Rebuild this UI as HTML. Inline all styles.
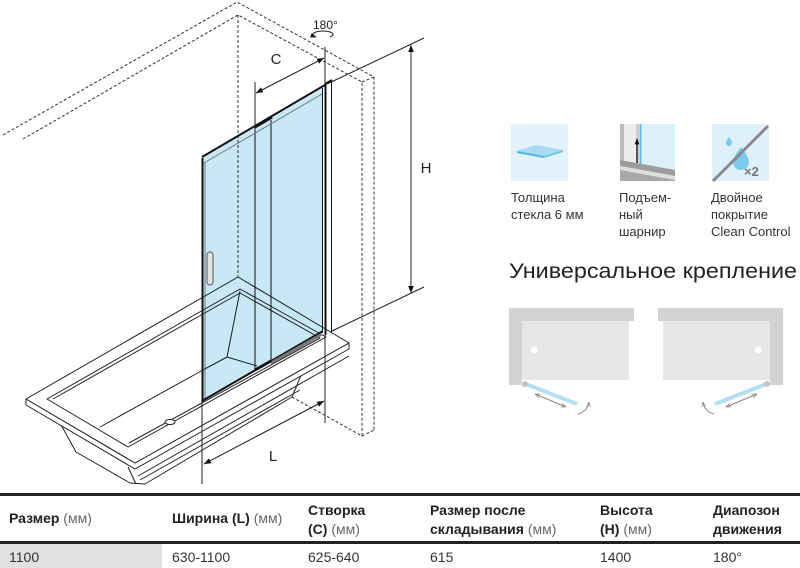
<!DOCTYPE html>
<html><head><meta charset="utf-8"><style>
html,body{margin:0;padding:0;background:#fff;}
svg{display:block;}
text{font-family:"Liberation Sans","DejaVu Sans",sans-serif;}
</style></head><body>
<svg width="800" height="568" viewBox="0 0 800 568" xmlns="http://www.w3.org/2000/svg">
<defs>
<marker id="ar" viewBox="0 0 10 10" refX="10" refY="5" markerWidth="7" markerHeight="7" orient="auto-start-reverse" markerUnits="userSpaceOnUse"><path d="M0,1 L10,5 L0,9 z" fill="#111"/></marker>
<marker id="ag" viewBox="0 0 10 10" refX="10" refY="5" markerWidth="5" markerHeight="5" orient="auto-start-reverse" markerUnits="userSpaceOnUse"><path d="M0,1 L10,5 L0,9" fill="none" stroke="#888" stroke-width="1.5"/></marker>
<marker id="ab" viewBox="0 0 10 10" refX="9" refY="5" markerWidth="6" markerHeight="6" orient="auto" markerUnits="userSpaceOnUse"><path d="M0,1 L10,5 L0,9 z" fill="#111"/></marker>
</defs>

<!-- dashed walls -->
<g fill="none" stroke="#333" stroke-width="1" stroke-dasharray="3,2">
<polyline points="3,135 237,2 374,77 374,430"/>
<polyline points="23,139 238,15 362,82 362,436"/>
<line x1="362" y1="82" x2="374" y2="77"/>
<line x1="238" y1="15" x2="238" y2="277"/>
<polyline points="292,397 362,436 374,430"/>
</g>

<!-- bathtub -->
<g stroke="#222" stroke-width="1" fill="#fff" stroke-linejoin="round">
<polygon points="60,423 76,452 130,483 145,484 292,397 302,373 135,469"/>
<line x1="128" y1="467" x2="136" y2="484"/>
<polygon points="26,399 135,463 349,343 349,349 135,469 26,405"/>
<polygon points="238,277 26,399 135,463 349,343"/>
<polygon points="47,399 240,289 326,337 128,447"/>
<polyline fill="none" points="53,399 240,293 320,338 129,443"/>
<line x1="138" y1="476" x2="349" y2="356" fill="none"/>
<line x1="140" y1="480" x2="300" y2="390" fill="none"/>
<line x1="100" y1="427" x2="203" y2="370" fill="none"/>
<polyline fill="none" points="203,370 227,357 240,291"/>
<line x1="227" y1="357" x2="257" y2="366"/>
<ellipse cx="170" cy="422" rx="5" ry="2.5"/>
</g>

<!-- glass (multiply) -->
<polygon points="202,158 323,88 323,331 202,401" fill="#c8e8f6" style="mix-blend-mode:multiply"/>
<g stroke="#111" fill="none">
<line x1="202.5" y1="158" x2="202.5" y2="402" stroke-width="2"/>
<line x1="205" y1="162" x2="205" y2="400" stroke-width="0.8" stroke="#555"/>
<line x1="255" y1="128" x2="255" y2="371" stroke-width="1"/>
<line x1="271" y1="120" x2="271" y2="362" stroke-width="1"/>
<line x1="322.5" y1="88" x2="322.5" y2="333" stroke-width="1"/>
<line x1="202" y1="157" x2="325" y2="85" stroke-width="2"/>
<line x1="204" y1="163" x2="322" y2="94" stroke-width="1" stroke="#777"/>
<line x1="255" y1="127" x2="272" y2="117" stroke-width="3"/>
<line x1="202" y1="401" x2="323" y2="331" stroke-width="2"/>
<line x1="271" y1="363" x2="322" y2="334" stroke-width="3" stroke="#777"/>
<line x1="255" y1="370" x2="271" y2="361" stroke-width="3"/>
<line x1="325.5" y1="84" x2="325.5" y2="335" stroke-width="2"/>
<line x1="331.5" y1="81" x2="331.5" y2="332" stroke-width="1"/>
<line x1="325" y1="84" x2="332" y2="80" stroke-width="2"/>
</g>
<rect x="207" y="252" width="6" height="33" rx="3" fill="#e4e4e4" stroke="#555" stroke-width="1"/>

<!-- dimensions -->
<g stroke="#222" stroke-width="1" fill="none">
<line x1="255" y1="82" x2="255" y2="128"/>
<line x1="325" y1="47" x2="325" y2="84"/>
<line x1="256" y1="93" x2="324" y2="58" marker-start="url(#ar)" marker-end="url(#ar)"/>
<line x1="327" y1="84" x2="424" y2="38"/>
<line x1="332" y1="331" x2="424" y2="287"/>
<line x1="411" y1="45" x2="411" y2="293" marker-start="url(#ar)" marker-end="url(#ar)"/>
<line x1="202" y1="402" x2="202" y2="484"/>
<line x1="325" y1="335" x2="325" y2="423"/>
<line x1="204" y1="464" x2="324" y2="401" marker-start="url(#ar)" marker-end="url(#ar)"/>
<path d="M320,33 A10 3.5 0 1 0 334,33" marker-end="url(#ab)" transform="rotate(180 325 35)"/>
</g>
<text x="313" y="29" font-size="12" fill="#222">180°</text>
<text x="276" y="64" font-size="15" fill="#222" text-anchor="middle">C</text>
<text x="426" y="173" font-size="15" fill="#222" text-anchor="middle">H</text>
<text x="273" y="461" font-size="15" fill="#222" text-anchor="middle">L</text>

<!-- icon 1 -->
<rect x="511" y="124" width="57" height="57" fill="#e2f3fb"/>
<polygon points="517,151 536,145 563,150 544,156" fill="#a9dcf3"/>
<polygon points="517,151 544,156 544,158 517,153" fill="#4fb3e3"/>
<polygon points="544,156 563,150 563,152 544,158" fill="#6cc3ea"/>

<!-- icon 2 -->
<rect x="620" y="124" width="55" height="57" fill="#ececec"/>
<rect x="620" y="124" width="4" height="46" fill="#bcbcbc"/>
<rect x="636" y="124" width="4" height="40" fill="#cfcfcf"/>
<rect x="641" y="124" width="34" height="44" fill="#dcf0fa"/>
<rect x="640" y="124" width="1.5" height="42" fill="#5bbde6"/>
<polygon points="620,160 675,170 675,176 620,166" fill="#9c9c9c"/>
<polygon points="620,166 675,176 675,181 620,181" fill="#dedede"/>
<polygon points="620,170 675,180 675,181 620,181" fill="#a8a8a8"/>
<line x1="637" y1="163" x2="637" y2="139" stroke="#111" stroke-width="1.3" marker-end="url(#ab)"/>

<!-- icon 3 -->
<rect x="712" y="124" width="57" height="57" fill="#def1fa"/>
<path d="M729,137 q-3,4 -3,6 a3,3 0 0 0 6,0 q0,-2 -3,-6z" fill="#7cc9ee"/>
<path d="M741,147 q-8,10 -8,15 a8,8 0 0 0 16,0 q0,-5 -8,-15z" fill="#7cc9ee"/>
<line x1="713" y1="181" x2="768" y2="126" stroke="#8a8a8a" stroke-width="3"/>
<text x="744" y="176" font-size="13" font-weight="bold" fill="#777">×2</text>

<g font-size="13" fill="#333">
<text x="511" y="202">Толщина</text>
<text x="511" y="219">стекла 6 мм</text>
<text x="619" y="202">Подъем-</text>
<text x="619" y="219">ный</text>
<text x="619" y="236">шарнир</text>
<text x="711" y="202">Двойное</text>
<text x="711" y="219">покрытие</text>
<text x="711" y="236">Clean Control</text>
</g>
<text x="509" y="278" font-size="21" fill="#222" textLength="288" lengthAdjust="spacingAndGlyphs">Универсальное крепление</text>

<!-- mounting diagrams -->
<g id="m1">
<rect x="509" y="308" width="125" height="13" fill="#d3d3d3"/>
<rect x="509" y="308" width="13" height="77" fill="#d3d3d3"/>
<rect x="522" y="321" width="107" height="59" fill="#e7e7e7"/>
<circle cx="534" cy="350" r="3.5" fill="#fff"/>
<line x1="526" y1="384" x2="577" y2="404" stroke="#b5def3" stroke-width="4"/>
<circle cx="525" cy="384" r="3" fill="#c4c4c4"/>
<line x1="535" y1="394" x2="566" y2="407" stroke="#888" stroke-width="1" marker-start="url(#ag)" marker-end="url(#ag)"/>
<path d="M578,414 Q588,411 589,402" fill="none" stroke="#888" stroke-width="1" marker-end="url(#ag)"/>
</g>
<use href="#m1" transform="translate(1292,0) scale(-1,1)"/>

<!-- table -->
<rect x="0" y="493" width="800" height="3" fill="#222"/>
<rect x="0" y="541" width="800" height="3" fill="#222"/>
<rect x="0" y="544" width="162" height="24" fill="#e1e1e1"/>
<g font-size="14" fill="#222">
<text x="9" y="523"><tspan font-weight="bold">Размер</tspan><tspan fill="#666"> (мм)</tspan></text>
<text x="172" y="523"><tspan font-weight="bold">Ширина (L)</tspan><tspan fill="#666"> (мм)</tspan></text>
<text x="308" y="515" font-weight="bold">Створка</text>
<text x="308" y="534"><tspan font-weight="bold">(С)</tspan><tspan fill="#666"> (мм)</tspan></text>
<text x="430" y="515" font-weight="bold">Размер после</text>
<text x="430" y="534"><tspan font-weight="bold">складывания</tspan><tspan fill="#666"> (мм)</tspan></text>
<text x="600" y="515" font-weight="bold">Высота</text>
<text x="600" y="534"><tspan font-weight="bold">(Н)</tspan><tspan fill="#666"> (мм)</tspan></text>
<text x="713" y="515" font-weight="bold">Диапозон</text>
<text x="713" y="534" font-weight="bold">движения</text>
</g>
<g font-size="14" fill="#333">
<text x="9" y="562">1100</text>
<text x="172" y="562">630-1100</text>
<text x="308" y="562">625-640</text>
<text x="430" y="562">615</text>
<text x="600" y="562">1400</text>
<text x="713" y="562">180°</text>
</g>
</svg>
</body></html>
